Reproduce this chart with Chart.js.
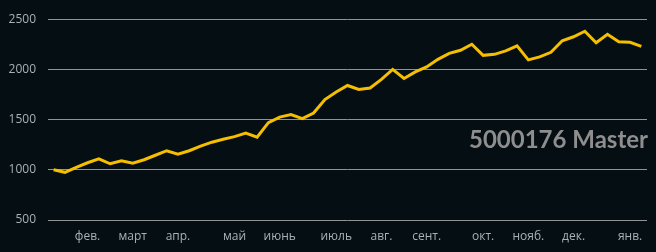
<!DOCTYPE html>
<html>
<head>
<meta charset="utf-8">
<script src="https://cdn.jsdelivr.net/npm/chart.js@4"></script>
<style>
  html, body { margin: 0; padding: 0; background: #050e12; }
  #wrap { position: relative; width: 656px; height: 252px; }
  #title {
    position: absolute; right: 8px; top: 127px;
    font: bold 24px Lato, sans-serif; line-height: 24px;
    color: #8e8e8e; white-space: nowrap;
  }
</style>
</head>
<body>
<div id="wrap">
  <canvas id="myChart" width="656" height="252"></canvas>
  <div id="title">5000176 Master</div>
</div>
<script>
// weekly balance, 53 points
const balance = [
  1000, 975, 1025, 1070, 1110, 1060, 1090, 1065, 1100, 1145,
  1190, 1155, 1190, 1235, 1275, 1305, 1330, 1365, 1325, 1470,
  1525, 1550, 1510, 1565, 1700, 1775, 1840, 1800, 1815, 1900,
  2000, 1910, 1975, 2025, 2100, 2160, 2190, 2250, 2140, 2150,
  2185, 2235, 2095, 2125, 2170, 2285, 2325, 2380, 2265, 2350,
  2275, 2270, 2230
];
// month label -> index of the week it sits under
const months = ['фев.', 'март', 'апр.', 'май', 'июнь', 'июль', 'авг.', 'сент.', 'окт.', 'нояб.', 'дек.', 'янв.'];
const monthAt = [3, 7, 11, 16, 20, 25, 29, 33, 38, 42, 46, 51];
const yTicks = [500, 1000, 1500, 2000, 2500];

const labels = balance.map(() => '');
monthAt.forEach((idx, i) => { labels[idx] = months[i]; });

const tickFont = { family: '"Open Sans", sans-serif', size: 12 };

const ctx = document.getElementById('myChart').getContext('2d');
new Chart(ctx, {
  type: 'line',
  data: {
    labels: labels,
    datasets: [{
      label: 'balance',
      data: balance,
      borderColor: '#f5bf00',
      borderWidth: 3,
      pointRadius: 0,
      tension: 0,
      fill: false
    }]
  },
  options: {
    responsive: false,
    animation: false,
    layout: { padding: { top: 18, right: 9, left: 0, bottom: 0 } },
    plugins: { legend: { display: false }, tooltip: { enabled: false } },
    scales: {
      x: {
        offset: true,
        grid: { display: false, drawTicks: false },
        border: { display: false },
        afterFit: (scale) => { scale.height = 32; },
        ticks: {
          autoSkip: false,
          maxRotation: 0,
          padding: 9,
          color: '#a9b1b8',
          font: tickFont
        }
      },
      y: {
        min: 500,
        max: 2500,
        afterFit: (scale) => { scale.width = 48; },
        afterBuildTicks: (scale) => { scale.ticks = yTicks.map(v => ({ value: v })); },
        grid: { color: '#939393', lineWidth: 1, drawTicks: false },
        border: { display: false },
        ticks: {
          padding: 12,
          color: '#a9b1b8',
          font: tickFont,
          callback: (v) => String(v)
        }
      }
    }
  }
});
</script>
</body>
</html>
